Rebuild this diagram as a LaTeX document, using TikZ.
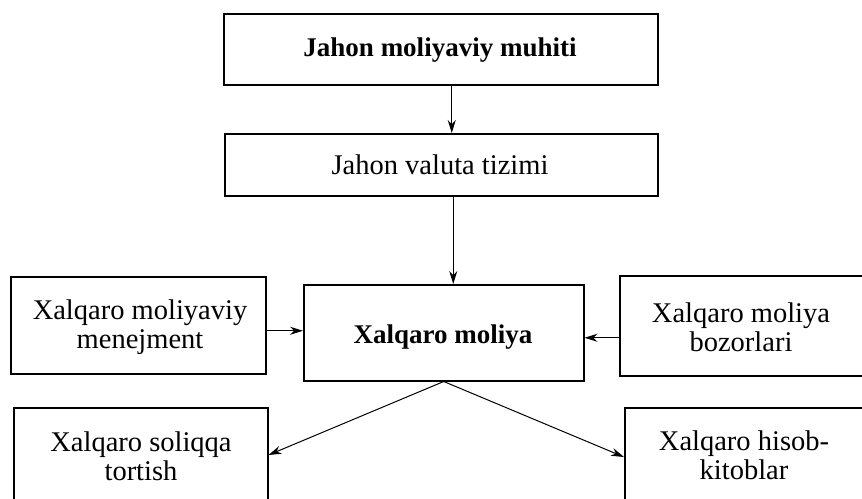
\documentclass[tikz,border=0pt]{standalone}
\usepackage{fontspec}
\setmainfont{Liberation Serif}
\usetikzlibrary{arrows.meta}
\begin{document}
\begin{tikzpicture}[x=1pt,y=-1pt,
  box/.style={draw, line width=1.5pt, inner sep=0pt, anchor=north west},
  lbl/.style={font=\fontsize{28.5}{29}\selectfont, align=center, inner sep=0pt},
  blbl/.style={font=\fontsize{27}{29}\selectfont\bfseries, align=center, inner sep=0pt},
  arr/.style={line width=1pt, -{Stealth[length=13pt,width=8pt]}}]
\useasboundingbox (0,0) rectangle (862,498);
\begin{scope}
\clip (0,0) rectangle (862,498);
% boxes
\node[box, minimum width=434pt, minimum height=71pt] (b1) at (223,13) {};
\node[box, minimum width=433pt, minimum height=62pt] (b2) at (224,133) {};
\node[box, minimum width=280pt, minimum height=96pt] (c) at (303,284) {};
\node[box, minimum width=255pt, minimum height=97pt] (l) at (10,276) {};
\node[box, minimum width=300pt, minimum height=100pt] (r) at (619,275) {};
\node[box, minimum width=254pt, minimum height=140pt] (bl) at (13,407) {};
\node[box, minimum width=300pt, minimum height=140pt] (br) at (624,407) {};
% texts
\node[blbl] (t1) at (440,50) {Jahon moliyaviy muhiti};
\node[lbl] (t2) at (440,165) {Jahon valuta tizimi};
\node[blbl] (tc) at (443,337) {Xalqaro moliya};
\node[lbl] (tl) at (140,327) {Xalqaro moliyaviy\\menejment};
\node[lbl] (tr) at (741,327) {Xalqaro moliya\\bozorlari};
\node[lbl] (tbl) at (141,456) {Xalqaro soliqqa\\tortish};
\node[lbl] (tbr) at (744,455) {Xalqaro hisob-\\kitoblar};
% connectors
\draw[arr] ([xshift=11pt]b1.south) -- ([xshift=11pt]b1.south |- b2.north);
\draw[arr] ([xshift=12pt]b2.south) -- ([xshift=12pt]b2.south |- c.north);
\draw[arr] ([yshift=-5.5pt]l.east) -- ([yshift=2pt]c.west);
\draw[arr] ([yshift=-12pt]r.west) -- ([yshift=-5pt]c.east);
\draw[arr] (c.south) -- ([yshift=-48pt]bl.north east);
\draw[arr] (c.south) -- ([yshift=-50pt]br.north west);
\end{scope}
\end{tikzpicture}
\end{document}
